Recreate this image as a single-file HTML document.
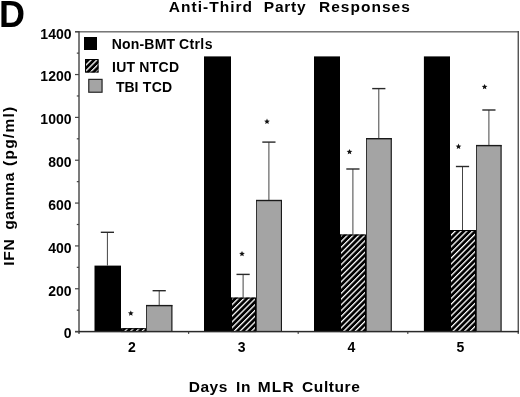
<!DOCTYPE html>
<html><head><meta charset="utf-8"><style>
html,body{margin:0;padding:0;background:#fff;width:520px;height:397px;overflow:hidden;}
svg{display:block;will-change:transform;filter:blur(0.3px);}
</style></head><body>
<svg width="520" height="397" viewBox="0 0 520 397">
<rect width="520" height="397" fill="#fff"/>
<defs>
<pattern id="h" patternUnits="userSpaceOnUse" width="4.07" height="4" patternTransform="rotate(45) translate(0.3,0)">
<rect width="4.07" height="4" fill="#000"/>
<rect x="0" y="0" width="1.3" height="4" fill="#fff"/>
</pattern>
</defs>
<rect x="94.50" y="265.60" width="26.50" height="66.00" fill="#000"/>
<rect x="121.00" y="328.20" width="25.00" height="3.40" fill="url(#h)"/>
<rect x="121.50" y="328.70" width="24.00" height="2.90" fill="none" stroke="#000" stroke-width="1"/>
<rect x="146.00" y="305.10" width="26.40" height="26.50" fill="#a4a4a4"/>
<rect x="146.00" y="305.10" width="1.00" height="26.50" fill="#333"/>
<rect x="171.30" y="305.10" width="1.10" height="26.50" fill="#1a1a1a"/>
<rect x="146.00" y="304.90" width="26.40" height="1.40" fill="#1a1a1a"/>
<rect x="204.00" y="56.40" width="27.00" height="275.20" fill="#000"/>
<rect x="231.00" y="297.60" width="25.00" height="34.00" fill="url(#h)"/>
<rect x="231.50" y="298.10" width="24.00" height="33.50" fill="none" stroke="#000" stroke-width="1"/>
<rect x="256.00" y="200.00" width="26.00" height="131.60" fill="#a4a4a4"/>
<rect x="256.00" y="200.00" width="1.00" height="131.60" fill="#333"/>
<rect x="280.90" y="200.00" width="1.10" height="131.60" fill="#1a1a1a"/>
<rect x="256.00" y="199.80" width="26.00" height="1.40" fill="#1a1a1a"/>
<rect x="314.00" y="56.40" width="26.00" height="275.20" fill="#000"/>
<rect x="340.00" y="234.50" width="26.00" height="97.10" fill="url(#h)"/>
<rect x="340.50" y="235.00" width="25.00" height="96.60" fill="none" stroke="#000" stroke-width="1"/>
<rect x="366.00" y="138.20" width="25.80" height="193.40" fill="#a4a4a4"/>
<rect x="366.00" y="138.20" width="1.00" height="193.40" fill="#333"/>
<rect x="390.70" y="138.20" width="1.10" height="193.40" fill="#1a1a1a"/>
<rect x="366.00" y="138.00" width="25.80" height="1.40" fill="#1a1a1a"/>
<rect x="423.90" y="56.40" width="26.10" height="275.20" fill="#000"/>
<rect x="450.00" y="230.00" width="26.00" height="101.60" fill="url(#h)"/>
<rect x="450.50" y="230.50" width="25.00" height="101.10" fill="none" stroke="#000" stroke-width="1"/>
<rect x="476.00" y="145.10" width="25.60" height="186.50" fill="#a4a4a4"/>
<rect x="476.00" y="145.10" width="1.00" height="186.50" fill="#333"/>
<rect x="500.50" y="145.10" width="1.10" height="186.50" fill="#1a1a1a"/>
<rect x="476.00" y="144.90" width="25.60" height="1.40" fill="#1a1a1a"/>
<rect x="106.90" y="232.30" width="1.00" height="33.30" fill="#444"/>
<rect x="100.80" y="231.60" width="13.20" height="1.40" fill="#2a2a2a"/>
<rect x="158.70" y="290.70" width="1.00" height="14.40" fill="#444"/>
<rect x="152.60" y="290.00" width="13.20" height="1.40" fill="#2a2a2a"/>
<rect x="242.60" y="274.40" width="1.00" height="23.20" fill="#444"/>
<rect x="236.50" y="273.70" width="13.20" height="1.40" fill="#2a2a2a"/>
<rect x="268.40" y="142.10" width="1.00" height="57.90" fill="#444"/>
<rect x="262.30" y="141.40" width="13.20" height="1.40" fill="#2a2a2a"/>
<rect x="352.40" y="169.00" width="1.00" height="65.50" fill="#444"/>
<rect x="346.30" y="168.30" width="13.20" height="1.40" fill="#2a2a2a"/>
<rect x="378.30" y="88.60" width="1.00" height="49.60" fill="#444"/>
<rect x="372.20" y="87.90" width="13.20" height="1.40" fill="#2a2a2a"/>
<rect x="462.00" y="166.50" width="1.00" height="63.50" fill="#444"/>
<rect x="455.90" y="165.80" width="13.20" height="1.40" fill="#2a2a2a"/>
<rect x="488.40" y="110.00" width="1.00" height="35.10" fill="#444"/>
<rect x="482.30" y="109.30" width="13.20" height="1.40" fill="#2a2a2a"/>
<rect x="75.00" y="31.10" width="444.00" height="1.40" fill="#6a6a6a"/>
<rect x="78.30" y="31.10" width="1.40" height="302.80" fill="#444"/>
<rect x="517.60" y="31.10" width="1.30" height="302.80" fill="#444"/>
<rect x="75.00" y="330.85" width="444.00" height="1.50" fill="#2a2a2a"/>
<rect x="75.00" y="331.00" width="4.00" height="1.20" fill="#444"/>
<rect x="76.80" y="309.58" width="2.20" height="1.20" fill="#444"/>
<rect x="75.00" y="288.16" width="4.00" height="1.20" fill="#444"/>
<rect x="76.80" y="266.74" width="2.20" height="1.20" fill="#444"/>
<rect x="75.00" y="245.32" width="4.00" height="1.20" fill="#444"/>
<rect x="76.80" y="223.90" width="2.20" height="1.20" fill="#444"/>
<rect x="75.00" y="202.47" width="4.00" height="1.20" fill="#444"/>
<rect x="76.80" y="181.05" width="2.20" height="1.20" fill="#444"/>
<rect x="75.00" y="159.63" width="4.00" height="1.20" fill="#444"/>
<rect x="76.80" y="138.21" width="2.20" height="1.20" fill="#444"/>
<rect x="75.00" y="116.79" width="4.00" height="1.20" fill="#444"/>
<rect x="76.80" y="95.37" width="2.20" height="1.20" fill="#444"/>
<rect x="75.00" y="73.95" width="4.00" height="1.20" fill="#444"/>
<rect x="76.80" y="52.53" width="2.20" height="1.20" fill="#444"/>
<rect x="75.00" y="31.11" width="4.00" height="1.20" fill="#444"/>
<rect x="188.00" y="331.60" width="1.20" height="2.30" fill="#444"/>
<rect x="297.60" y="331.60" width="1.20" height="2.30" fill="#444"/>
<rect x="407.20" y="331.60" width="1.20" height="2.30" fill="#444"/>
<polygon points="130.80,310.40 131.59,312.31 133.65,312.47 132.08,313.82 132.56,315.83 130.80,314.75 129.04,315.83 129.52,313.82 127.95,312.47 130.01,312.31" fill="#111"/>
<polygon points="242.00,250.90 242.79,252.81 244.85,252.97 243.28,254.32 243.76,256.33 242.00,255.25 240.24,256.33 240.72,254.32 239.15,252.97 241.21,252.81" fill="#111"/>
<polygon points="267.00,118.60 267.79,120.51 269.85,120.67 268.28,122.02 268.76,124.03 267.00,122.95 265.24,124.03 265.72,122.02 264.15,120.67 266.21,120.51" fill="#111"/>
<polygon points="349.50,148.90 350.29,150.81 352.35,150.97 350.78,152.32 351.26,154.33 349.50,153.25 347.74,154.33 348.22,152.32 346.65,150.97 348.71,150.81" fill="#111"/>
<polygon points="458.50,143.60 459.29,145.51 461.35,145.67 459.78,147.02 460.26,149.03 458.50,147.95 456.74,149.03 457.22,147.02 455.65,145.67 457.71,145.51" fill="#111"/>
<polygon points="484.60,83.90 485.39,85.81 487.45,85.97 485.88,87.32 486.36,89.33 484.60,88.25 482.84,89.33 483.32,87.32 481.75,85.97 483.81,85.81" fill="#111"/>
<rect x="84.00" y="37.00" width="13.00" height="13.00" fill="#000"/>
<rect x="85.00" y="59.00" width="13.50" height="13.50" fill="url(#h)"/>
<rect x="85.5" y="59.5" width="12.5" height="12.5" fill="none" stroke="#000" stroke-width="1"/>
<rect x="88.20" y="78.80" width="14.40" height="14.00" fill="#a4a4a4"/>
<rect x="88.8" y="79.4" width="13.2" height="12.8" fill="none" stroke="#222" stroke-width="1.1"/>
<text x="111.8" y="48.8" font-family='"Liberation Sans", sans-serif' font-weight="bold" font-size="14" letter-spacing="0.17" fill="#000">Non-BMT</text>
<text x="179.0" y="48.8" font-family='"Liberation Sans", sans-serif' font-weight="bold" font-size="14" letter-spacing="0.38" fill="#000">Ctrls</text>
<text x="112.0" y="71.7" font-family='"Liberation Sans", sans-serif' font-weight="bold" font-size="14" letter-spacing="0.25" fill="#000">IUT</text>
<text x="139.2" y="71.7" font-family='"Liberation Sans", sans-serif' font-weight="bold" font-size="14" letter-spacing="0.33" fill="#000">NTCD</text>
<text x="116.0" y="91.5" font-family='"Liberation Sans", sans-serif' font-weight="bold" font-size="14" letter-spacing="-0.1" fill="#000">TBI</text>
<text x="142.8" y="91.5" font-family='"Liberation Sans", sans-serif' font-weight="bold" font-size="14" letter-spacing="0.3" fill="#000">TCD</text>
<text x="71.5" y="338.40000000000003" font-family='"Liberation Sans", sans-serif' font-weight="bold" font-size="14" text-anchor="end" fill="#000">0</text>
<text x="71.5" y="295.55800000000005" font-family='"Liberation Sans", sans-serif' font-weight="bold" font-size="14" text-anchor="end" fill="#000">200</text>
<text x="71.5" y="252.71600000000004" font-family='"Liberation Sans", sans-serif' font-weight="bold" font-size="14" text-anchor="end" fill="#000">400</text>
<text x="71.5" y="209.87400000000002" font-family='"Liberation Sans", sans-serif' font-weight="bold" font-size="14" text-anchor="end" fill="#000">600</text>
<text x="71.5" y="167.03200000000004" font-family='"Liberation Sans", sans-serif' font-weight="bold" font-size="14" text-anchor="end" fill="#000">800</text>
<text x="71.5" y="124.19000000000001" font-family='"Liberation Sans", sans-serif' font-weight="bold" font-size="14" text-anchor="end" fill="#000">1000</text>
<text x="71.5" y="81.348" font-family='"Liberation Sans", sans-serif' font-weight="bold" font-size="14" text-anchor="end" fill="#000">1200</text>
<text x="71.5" y="38.506000000000014" font-family='"Liberation Sans", sans-serif' font-weight="bold" font-size="14" text-anchor="end" fill="#000">1400</text>
<text x="131.9" y="351.8" font-family='"Liberation Sans", sans-serif' font-weight="bold" font-size="14" text-anchor="middle" fill="#000">2</text>
<text x="241.6" y="351.8" font-family='"Liberation Sans", sans-serif' font-weight="bold" font-size="14" text-anchor="middle" fill="#000">3</text>
<text x="351.3" y="351.8" font-family='"Liberation Sans", sans-serif' font-weight="bold" font-size="14" text-anchor="middle" fill="#000">4</text>
<text x="460.5" y="351.8" font-family='"Liberation Sans", sans-serif' font-weight="bold" font-size="14" text-anchor="middle" fill="#000">5</text>
<text x="188.8" y="392.0" font-family='"Liberation Sans", sans-serif' font-weight="bold" font-size="15.5" letter-spacing="0.5" fill="#000">Days</text>
<text x="236.1" y="392.0" font-family='"Liberation Sans", sans-serif' font-weight="bold" font-size="15.5" letter-spacing="0.5" fill="#000">In</text>
<text x="257.8" y="392.0" font-family='"Liberation Sans", sans-serif' font-weight="bold" font-size="15.5" letter-spacing="1.15" fill="#000">MLR</text>
<text x="302.1" y="392.0" font-family='"Liberation Sans", sans-serif' font-weight="bold" font-size="15.5" letter-spacing="0.58" fill="#000">Culture</text>
<text x="168.8" y="11.7" font-family='"Liberation Sans", sans-serif' font-weight="bold" font-size="15.5" letter-spacing="1.02" fill="#000">Anti-Third</text>
<text x="263.8" y="11.7" font-family='"Liberation Sans", sans-serif' font-weight="bold" font-size="15.5" letter-spacing="0.75" fill="#000">Party</text>
<text x="319.0" y="11.7" font-family='"Liberation Sans", sans-serif' font-weight="bold" font-size="15.5" letter-spacing="1.01" fill="#000">Responses</text>
<g transform="translate(13.6,264.7) rotate(-90)">
<text x="-1" y="0" font-family='"Liberation Sans", sans-serif' font-weight="bold" font-size="15.5" letter-spacing="0.75" fill="#000">IFN</text>
<text x="34.9" y="0" font-family='"Liberation Sans", sans-serif' font-weight="bold" font-size="15.5" letter-spacing="0.7" fill="#000">gamma</text>
<text x="98.8" y="0" font-family='"Liberation Sans", sans-serif' font-weight="bold" font-size="15.5" letter-spacing="1.22" fill="#000">(pg/ml)</text>
</g>
<text x="-1" y="26.6" font-family='"Liberation Sans", sans-serif' font-weight="bold" font-size="36" text-anchor="start" fill="#000">D</text>
</svg>
</body></html>
